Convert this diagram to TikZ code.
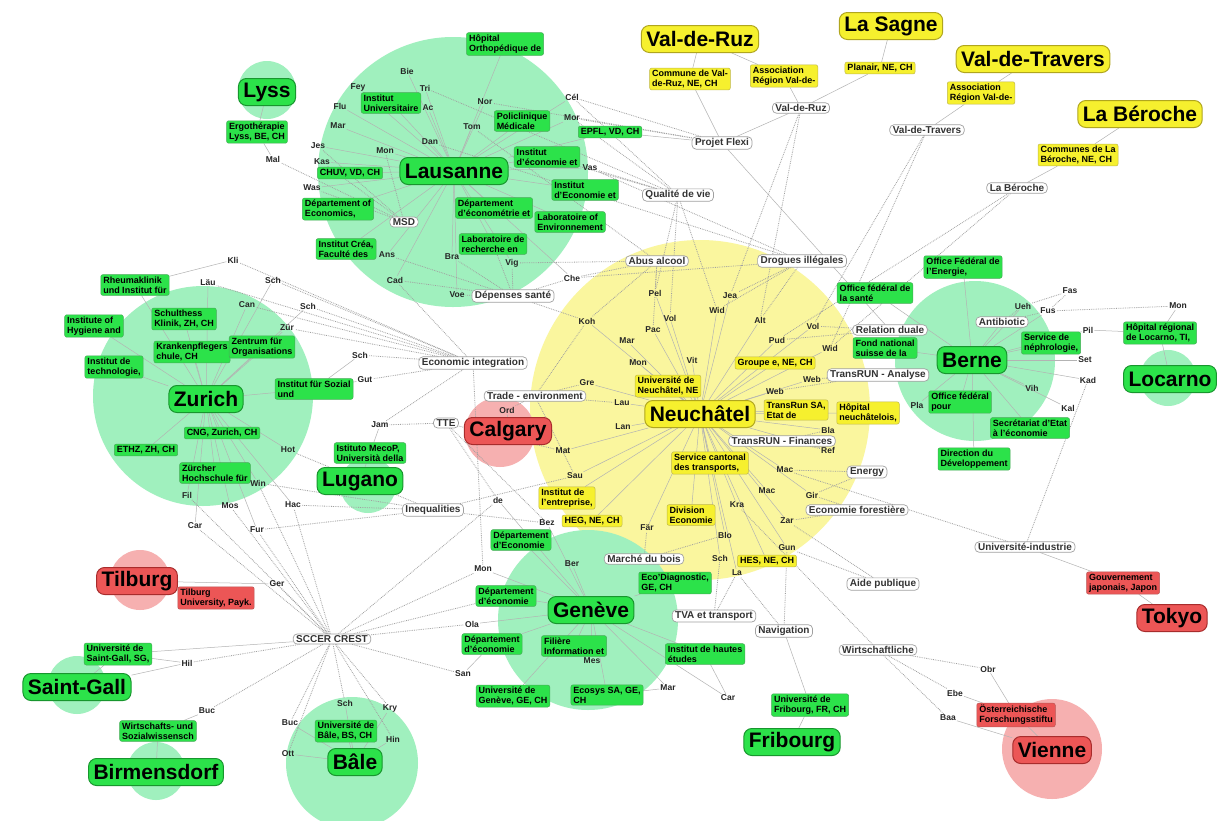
\documentclass[tikz,border=0pt]{standalone}
\usepackage{fontspec}
\setmainfont{Liberation Sans}
\usetikzlibrary{positioning}
\definecolor{vert}{RGB}{44,226,74}
\definecolor{vertfonce}{RGB}{24,150,46}
\definecolor{vertclair}{RGB}{160,240,190}
\definecolor{jaune}{RGB}{246,240,46}
\definecolor{jaunefonce}{RGB}{176,166,30}
\definecolor{jauneclair}{RGB}{250,246,158}
\definecolor{rouge}{RGB}{236,86,86}
\definecolor{rougefonce}{RGB}{168,44,44}
\definecolor{rougeclair}{RGB}{246,176,176}
\definecolor{gris}{RGB}{160,160,160}
\pgfdeclarelayer{fond}
\pgfdeclarelayer{liens}
\pgfsetlayers{fond,liens,main}

\begin{document}
\begin{tikzpicture}[x=1pt,y=-1pt,
    ville/.style={draw,rounded corners=8pt,line width=1pt,inner xsep=5pt,inner ysep=2pt,minimum height=27pt,font=\fontsize{21}{24}\selectfont\bfseries},
    villeV/.style={ville,fill=vert,draw=vertfonce},
    villeJ/.style={ville,fill=jaune,draw=jaunefonce},
    villeR/.style={ville,fill=rouge,draw=rougefonce},
    inst/.style={draw,rounded corners=2pt,line width=0.5pt,inner xsep=2.5pt,inner ysep=2pt,align=left,font=\fontsize{9}{10}\selectfont\bfseries},
    instV/.style={inst,fill=vert,draw=vertfonce!80},
    instJ/.style={inst,fill=jaune,draw=jaunefonce!80},
    instR/.style={inst,fill=rouge,draw=rougefonce!80},
    theme/.style={draw=gris,fill=white,rounded corners=4pt,line width=0.7pt,inner xsep=3pt,inner ysep=1.5pt,text=black!80,font=\fontsize{10}{11}\selectfont\bfseries},
    nom/.style={inner sep=1pt,text=black!85,font=\fontsize{8.5}{9}\selectfont\bfseries},
    lien/.style={draw=gris!80,line width=0.5pt},
    tiret/.style={draw=gris,densely dotted,line width=0.8pt}]
  \useasboundingbox (0,0) rectangle (1221,820);

  % 城市
  \node[villeV] (lyss) at (267,92) {Lyss};
  \node[villeV] (lausanne) at (454,171) {Lausanne};
  \node[villeV] (zurich) at (206,399) {Zurich};
  \node[villeV] (lugano) at (360,481) {Lugano};
  \node[villeV] (geneve) at (591,610) {Genève};
  \node[villeV] (berne) at (972,360) {Berne};
  \node[villeV] (locarno) at (1170,379) {Locarno};
  \node[villeV] (stgall) at (77,687) {Saint-Gall};
  \node[villeV] (birm) at (156,772) {Birmensdorf};
  \node[villeV] (bale) at (355,762) {Bâle};
  \node[villeV] (fribourg) at (792,742) {Fribourg};
  \node[villeJ] (neuch) at (700,414) {Neuchâtel};
  \node[villeJ] (valruz) at (700,39) {Val-de-Ruz};
  \node[villeJ] (sagne) at (891,26) {La Sagne};
  \node[villeJ] (valtrav) at (1033,59) {Val-de-Travers};
  \node[villeJ] (beroche) at (1140,114) {La Béroche};
  \node[villeR] (calgary) at (508,431) {Calgary};
  \node[villeR] (tilburg) at (137,581) {Tilburg};
  \node[villeR] (tokyo) at (1172,618) {Tokyo};
  \node[villeR] (vienne) at (1052,750) {Vienne};

  % 机构
  \node[instV] (ergo) at (257,132) {Ergothérapie\\Lyss, BE, CH};
  \node[instV] (orth) at (505,44) {Hôpital\\Orthopédique de};
  \node[instV] (iuniv) at (391,103) {Institut\\Universitaire};
  \node[instV] (polim) at (522,121) {Policlinique\\Médicale};
  \node[instV] (epfl) at (610,132) {EPFL, VD, CH};
  \node[instV] (iecoa) at (547,157) {Institut\\d'économie et};
  \node[instV] (chuv) at (350,173) {CHUV, VD, CH};
  \node[instV] (iecob) at (585,190) {Institut\\d'Economie et};
  \node[instV] (deconom) at (338,209) {Département of\\Economics,};
  \node[instV] (decmet) at (494,208) {Département\\d'économétrie et};
  \node[instV] (labenv) at (570,222) {Laboratoire of\\Environnement};
  \node[instV] (icrea) at (346,249) {Institut Créa,\\Faculté des};
  \node[instV] (labrech) at (493,244) {Laboratoire de\\recherche en};
  \node[instV] (rheuma) at (135,285) {Rheumaklinik\\und Institut für};
  \node[instV] (schult) at (184,319) {Schulthess\\Klinik, ZH, CH};
  \node[instV] (hyg) at (94,326) {Institute of\\Hygiene and};
  \node[instV] (krank) at (192,352) {Krankenpflegers\\chule, CH};
  \node[instV] (zentrum) at (262,347) {Zentrum für\\Organisations};
  \node[instV] (itech) at (114,367) {Institut de\\technologie,};
  \node[instV] (isoz) at (314,389) {Institut für Sozial\\und};
  \node[instV] (cng) at (222,433) {CNG, Zurich, CH};
  \node[instV] (ethz) at (146,450) {ETHZ, ZH, CH};
  \node[instV] (zhaw) at (215,473) {Zürcher\\Hochschule für};
  \node[instV] (mecop) at (370,453) {Istituto MecoP,\\Università della};
  \node[instV] (depa) at (521,540) {Département\\d'Economie};
  \node[instV] (depb) at (506,596) {Département\\d'économie};
  \node[instV] (depc) at (492,644) {Département\\d'économie};
  \node[instV] (filiere) at (574,646) {Filière\\Information et};
  \node[instV] (unige) at (513,696) {Université de\\Genève, GE, CH};
  \node[instV] (ecosys) at (607,695) {Ecosys SA, GE,\\CH};
  \node[instV] (ecodiag) at (675,583) {Eco'Diagnostic,\\GE, CH};
  \node[instV] (iheid) at (705,654) {Institut de hautes\\études};
  \node[instV] (unifr) at (810,705) {Université de\\Fribourg, FR, CH};
  \node[instV] (unibas) at (346,731) {Université de\\Bâle, BS, CH};
  \node[instV] (unisg) at (118,654) {Université de\\Saint-Gall, SG,};
  \node[instV] (wiso) at (158,731) {Wirtschafts- und\\Sozialwissensch};
  \node[instV] (ofen) at (963,267) {Office Fédéral de\\l'Energie,};
  \node[instV] (ofsp) at (875,293) {Office fédéral de\\la santé};
  \node[instV] (fns) at (885,348) {Fond national\\suisse de la};
  \node[instV] (nephro) at (1051,343) {Service de\\néphrologie,};
  \node[instV] (ofpour) at (960,402) {Office fédéral\\pour};
  \node[instV] (seco) at (1030,428) {Secrétariat d'Etat\\à l'économie};
  \node[instV] (ddc) at (974,459) {Direction du\\Développement};
  \node[instV] (hloc) at (1160,333) {Hôpital régional\\de Locarno, TI,};
  \node[instJ] (comvr) at (690,79) {Commune de Val-\\de-Ruz, NE, CH};
  \node[instJ] (assvr) at (784,76) {Association\\Région Val-de-};
  \node[instJ] (planair) at (880,68) {Planair, NE, CH};
  \node[instJ] (assvt) at (981,93) {Association\\Région Val-de-};
  \node[instJ] (combe) at (1078,155) {Communes de La\\Béroche, NE, CH};
  \node[instJ] (unine) at (668,386) {Université de\\Neuchâtel, NE};
  \node[instJ] (groupee) at (775,363) {Groupe e, NE, CH};
  \node[instJ] (transrun) at (796,410) {TransRun SA,\\Etat de};
  \node[instJ] (hne) at (868,413) {Hôpital\\neuchâtelois,};
  \node[instJ] (sct) at (710,463) {Service cantonal\\des transports,};
  \node[instJ] (diveco) at (691,515) {Division\\Economie};
  \node[instJ] (ient) at (567,498) {Institut de\\l'entreprise,};
  \node[instJ] (heg) at (592,521) {HEG, NE, CH};
  \node[instJ] (hes) at (767,561) {HES, NE, CH};
  \node[instR] (tilbu) at (216,598) {Tilburg\\University, Payk.};
  \node[instR] (gouvj) at (1123,583) {Gouvernement\\japonais, Japon};
  \node[instR] (oesterr) at (1016,715) {Österreichische\\Forschungsstiftu};

  % 主题
  \node[theme] (flexi) at (722,143) {Projet Flexi};
  \node[theme] (tvr) at (801,108) {Val-de-Ruz};
  \node[theme] (tvt) at (927,130) {Val-de-Travers};
  \node[theme] (tbe) at (1017,188) {La Béroche};
  \node[theme] (qual) at (678,195) {Qualité de vie};
  \node[theme] (abus) at (657,261) {Abus alcool};
  \node[theme] (drog) at (802,261) {Drogues illégales};
  \node[theme] (msd) at (404,222) {MSD};
  \node[theme] (depsante) at (513,296) {Dépenses santé};
  \node[theme] (ecoint) at (473,363) {Economic integration};
  \node[theme] (trade) at (535,396) {Trade - environment};
  \node[theme] (tte) at (446,423) {TTE};
  \node[theme] (ineq) at (433,510) {Inequalities};
  \node[theme] (reldu) at (890,330) {Relation duale};
  \node[theme] (antib) at (1002,322) {Antibiotic};
  \node[theme] (tranana) at (878,375) {TransRUN - Analyse};
  \node[theme] (tranfin) at (782,441) {TransRUN - Finances};
  \node[theme] (energy) at (867,472) {Energy};
  \node[theme] (ecofor) at (857,510) {Economie forestière};
  \node[theme] (bois) at (644,559) {Marché du bois};
  \node[theme] (aide) at (883,584) {Aide publique};
  \node[theme] (unind) at (1025,547) {Université-industrie};
  \node[theme] (tva) at (714,616) {TVA et transport};
  \node[theme] (navig) at (784,631) {Navigation};
  \node[theme] (wirt) at (878,650) {Wirtschaftliche};
  \node[theme] (sccer) at (332,639) {SCCER CREST};

  % 人名
  \foreach \n/\x/\y/\txt in {bie/407/71/Bie,fey/358/87/Fey,tri/425/88/Tri,flu/340/106/Flu,ac/428/108/Ac,
      nor/485/102/Nor,cel/572/97/Cél,mara/338/126/Mar,mor/572/118/Mor,tom/472/127/Tom,dan/430/142/Dan,
      jes/318/146/Jes,mona/385/151/Mon,kas/322/162/Kas,vas/590/168/Vas,was/312/188/Was,ans/387/255/Ans,
      bra/452/257/Bra,vig/512/263/Vig,mal/273/159/Mal,cad/395/280/Cad,voe/457/295/Voe,che/572/278/Che,
      kli/233/260/Kli,laeu/208/283/Läu,scha/273/280/Sch,can/247/305/Can,zuer/287/328/Zür,schb/308/306/Sch,
      schc/360/355/Sch,gut/365/380/Gut,hot/288/450/Hot,win/258/483/Win,fil/187/495/Fil,mos/230/506/Mos,
      hac/293/505/Hac,cara/195/526/Car,fur/257/530/Fur,jam/380/425/Jam,ord/507/410/Ord,mat/563/451/Mat,
      koh/587/321/Koh,gre/587/383/Gre,sau/575/476/Sau,pel/655/293/Pel,jea/730/296/Jea,wida/717/310/Wid,
      vola/670/318/Vol,alt/760/320/Alt,pac/653/330/Pac,marb/627/341/Mar,volb/813/326/Vol,pud/777/340/Pud,
      widb/830/348/Wid,monb/638/363/Mon,vit/692/360/Vit,weba/812/379/Web,webb/775/391/Web,lauz/622/403/Lau,
      lan/623/427/Lan,bla/828/430/Bla,ref/828/450/Ref,maca/785/470/Mac,macb/767/491/Mac,gir/812/495/Gir,
      kra/737/505/Kra,zar/787/521/Zar,faer/647/528/Fär,blo/725/535/Blo,schd/720/558/Sch,la/737/573/La,
      gun/787/548/Gun,bez/547/523/Bez,de/498/500/de,monc/483/569/Mon,ber/572/564/Ber,ola/472/624/Ola,
      san/463/674/San,mes/592/661/Mes,marc/668/688/Mar,carb/728/698/Car,sche/345/703/Sch,kry/390/708/Kry,
      hin/393/739/Hin,bucb/290/723/Buc,ott/288/754/Ott,ger/277/584/Ger,hil/187/663/Hil,buca/207/711/Buc,
      fas/1070/291/Fas,ueh/1023/306/Ueh,fus/1048/311/Fus,mond/1178/306/Mon,pil/1088/330/Pil,set/1085/360/Set,
      kad/1088/380/Kad,vih/1032/388/Vih,kal/1068/408/Kal,pla/917/405/Pla,obr/988/669/Obr,ebe/955/693/Ebe,
      baa/948/718/Baa}
    \node[nom] (\n) at (\x,\y) {\txt};

  % 连线
  \begin{pgfonlayer}{liens}
    \foreach \v in {bie,fey,tri,flu,ac,nor,cel,mara,mor,tom,dan,jes,mona,kas,was,ans,bra,vig,cad,voe,che,vas,
        orth,iuniv,polim,epfl,iecoa,chuv,iecob,deconom,decmet,labenv,icrea,labrech}
      \draw[lien] (lausanne) -- (\v);
    \foreach \v in {laeu,scha,can,zuer,schb,hot,win,fil,mos,hac,cara,fur,rheuma,schult,hyg,krank,zentrum,
        itech,isoz,cng,ethz,zhaw}
      \draw[lien] (zurich) -- (\v);
    \foreach \v in {koh,gre,sau,pel,jea,wida,vola,alt,pac,marb,volb,pud,widb,monb,vit,weba,webb,lauz,lan,bla,
        ref,maca,macb,gir,kra,zar,faer,blo,schd,la,gun,mat,unine,groupee,transrun,hne,sct,diveco,ient,heg,hes}
      \draw[lien] (neuch) -- (\v);
    \foreach \v in {de,bez,ber,monc,ola,mes,marc,carb,depa,depb,depc,filiere,unige,ecosys,ecodiag,iheid}
      \draw[lien] (geneve) -- (\v);
    \foreach \v in {sche,kry,hin,bucb,ott,unibas}
      \draw[lien] (bale) -- (\v);
    \foreach \v in {ueh,fus,pil,set,kad,vih,kal,pla,ofen,ofsp,fns,nephro,ofpour,seco,ddc,antib}
      \draw[lien] (berne) -- (\v);
    \foreach \a/\b in {lyss/ergo,ergo/mal,kli/rheuma,schc/isoz,gut/isoz,lugano/mecop,mecop/jam,calgary/ord,
        stgall/unisg,stgall/hil,unisg/hil,unisg/sccer,birm/wiso,wiso/buca,tilburg/tilbu,tilburg/ger,
        fribourg/unifr,unifr/navig,tokyo/gouvj,gouvj/unind,vienne/oesterr,oesterr/obr,oesterr/ebe,vienne/baa,
        locarno/hloc,hloc/pil,hloc/mond,valruz/comvr,valruz/assvr,comvr/flexi,assvr/tvr,sagne/planair,
        planair/tvr,valtrav/assvt,assvt/tvt,beroche/combe,combe/tbe,epfl/flexi,flexi/tvr,flexi/reldu,
        depc/san,iheid/carb,ecosys/marc}
      \draw[lien] (\a) -- (\b);
    \foreach \a/\b in {qual/cel,qual/mor,qual/vas,qual/iecoa,qual/tri,flexi/mor,flexi/cel,flexi/nor,msd/was,
        msd/mal,msd/kas,msd/jes,msd/mona,depsante/ans,depsante/bra,depsante/vig,depsante/voe,depsante/cad,
        depsante/labrech,depsante/koh,depsante/che,abus/che,abus/vig,abus/tom,drog/vas,drog/che,drog/dan,
        ecoint/kli,ecoint/scha,ecoint/schb,ecoint/schc,ecoint/gut,ecoint/cad,ecoint/jam,ecoint/monc,
        ecoint/laeu,ecoint/can,ecoint/zuer,qual/pel,qual/vola,qual/wida,abus/pel,abus/pac,abus/koh,drog/jea,
        drog/alt,drog/wida,tvr/jea,tvr/alt,tvt/volb,tvt/widb,tbe/pud,tbe/widb,reldu/volb,reldu/pud,
        tranana/weba,tranana/webb,tranfin/bla,tranfin/ref,energy/maca,energy/gir,ecofor/zar,ecofor/gir,
        bois/faer,bois/blo,aide/gun,aide/zar,tva/schd,tva/la,navig/la,navig/gun,wirt/kra,wirt/obr,wirt/ebe,
        wirt/baa,unind/maca,unind/kad,trade/gre,trade/ord,trade/lauz,trade/sau,trade/koh,tte/jam,tte/de,
        tte/mat,tte/bez,ineq/hot,ineq/bez,ineq/sau,ineq/win,ineq/hac,ineq/fur,sccer/ger,sccer/hil,sccer/buca,
        sccer/bucb,sccer/ott,sccer/sche,sccer/kry,sccer/hin,sccer/san,sccer/ola,sccer/monc,sccer/win,
        sccer/fil,sccer/mos,sccer/hac,sccer/cara,sccer/fur,sccer/de,sccer/depb,antib/ueh,antib/fus,
        fus/mond,ueh/fas,fus/fas}
      \draw[tiret] (\a) -- (\b);
  \end{pgfonlayer}

  % 圆
  \begin{pgfonlayer}{fond}
    \fill[white] (0,0) rectangle (1221,820);
    \fill[jauneclair] (700,410) circle (170pt);
    \fill[vertclair] (453,172) circle (135pt);
    \fill[vertclair] (203,396) circle (110pt);
    \fill[vertclair] (975,361) circle (80pt);
    \fill[vertclair] (588,620) circle (90pt);
    \fill[vertclair] (352,763) circle (66pt);
    \fill[vertclair] (368,485) circle (28pt);
    \fill[vertclair] (267,90) circle (29pt);
    \fill[vertclair] (1168,378) circle (28pt);
    \fill[vertclair] (77,685) circle (29pt);
    \fill[vertclair] (156,771) circle (29pt);
    \fill[rougeclair] (500,432) circle (35pt);
    \fill[rougeclair] (140,580) circle (30pt);
    \fill[rougeclair] (1052,749) circle (50pt);
  \end{pgfonlayer}
\end{tikzpicture}
\end{document}
